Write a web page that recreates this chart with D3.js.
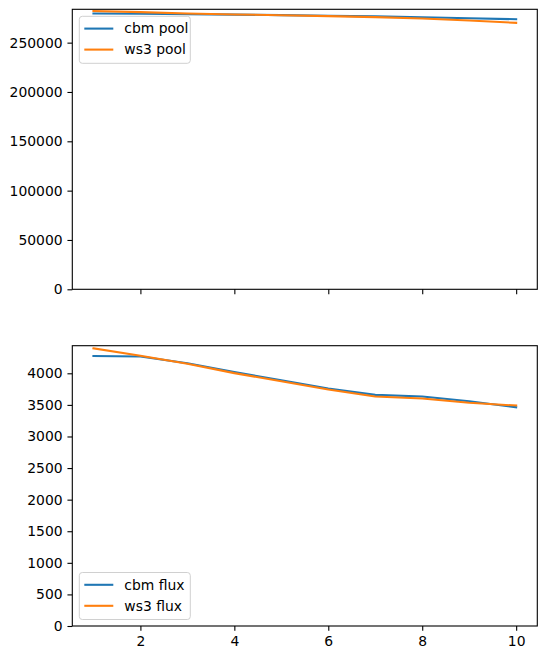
<!DOCTYPE html>
<html>
<head>
<meta charset="utf-8">
<script src="https://cdn.jsdelivr.net/npm/d3@7"></script>
<style>
  body { margin: 0; background: #fff; }
  text { font-family: "DejaVu Sans", sans-serif; }
</style>
</head>
<body>
<script>
// data
const years = [1, 2, 3, 4, 5, 6, 7, 8, 9, 10];
const cbmPool = [279600, 279300, 278900, 278400, 277900, 277300, 276600, 275800, 274800, 273700];
const ws3Pool = [282100, 280900, 279600, 278600, 277800, 276900, 275900, 274500, 272400, 270100];
const cbmFlux = [4275, 4265, 4160, 4020, 3890, 3760, 3659, 3632, 3558, 3463];
const ws3Flux = [4395, 4278, 4150, 4003, 3875, 3745, 3632, 3600, 3533, 3490];
const xTicks = [2, 4, 6, 8, 10];
const poolTicks = [0, 50000, 100000, 150000, 200000, 250000];
const fluxTicks = [0, 500, 1000, 1500, 2000, 2500, 3000, 3500, 4000];
const poolLim = [0, 283800];
const fluxLim = [0, 4437];

const W = 547, H = 659;
const C_BLUE = "#1f77b4", C_ORANGE = "#ff7f0e";
const FS = 13.9, TICK = 4.86, PAD = 4.86;

const svg = d3.select("body").append("svg")
  .attr("width", W).attr("height", H);

const left = 72.3, right = 537.3;
const x = d3.scaleLinear()
  .domain([0.55, 10.45])
  .range([left, right]);

//画一个子图
function draw_panel(top, bottom, ylim, yTicks, series, showX) {
  const y = d3.scaleLinear().domain(ylim).range([bottom, top]);
  const g = svg.append("g");

  const line = d3.line()
    .x((d, i) => x(years[i]))
    .y(d => y(d));

  series.forEach(s => {
    g.append("path")
      .datum(s.values)
      .attr("fill", "none")
      .attr("stroke", s.color)
      .attr("stroke-width", 2.08)
      .attr("stroke-linejoin", "round")
      .attr("stroke-linecap", "square")
      .attr("d", line);
  });

  //边框
  g.append("rect")
    .attr("x", left).attr("y", top)
    .attr("width", right - left).attr("height", bottom - top)
    .attr("fill", "none")
    .attr("stroke", "#000")
    .attr("stroke-width", 1.1);

  const yAxis = d3.axisLeft(y)
    .tickValues(yTicks)
    .tickSize(TICK)
    .tickPadding(PAD)
    .tickFormat(d3.format("d"));
  const ga = g.append("g")
    .attr("transform", `translate(${left},0)`)
    .call(yAxis);
  ga.select(".domain").remove();
  ga.selectAll("line").attr("stroke-width", 1.1);
  ga.selectAll("text")
    .style("font-size", FS + "px")
    .attr("fill", "#000");

  const xAxis = d3.axisBottom(x)
    .tickValues(xTicks)
    .tickSize(TICK)
    .tickPadding(PAD)
    .tickFormat(showX ? d3.format("d") : "");
  const gx = g.append("g")
    .attr("transform", `translate(0,${bottom})`)
    .call(xAxis);
  gx.select(".domain").remove();
  gx.selectAll("line").attr("stroke-width", 1.1);
  gx.selectAll("text")
    .style("font-size", FS + "px")
    .attr("fill", "#000");

  return g;
}

//图例
function draw_legend(bx, by, series) {
  const w = 111, h = 47;
  const g = svg.append("g");
  g.append("rect")
    .attr("x", bx).attr("y", by)
    .attr("width", w).attr("height", h)
    .attr("rx", 3)
    .attr("fill", "#fff")
    .attr("fill-opacity", 0.8)
    .attr("stroke", "#d0d0d0")
    .attr("stroke-width", 1);
  series.forEach((s, i) => {
    const cy = by + 12.3 + i * 21;
    g.append("line")
      .attr("x1", bx + 5).attr("x2", bx + 34)
      .attr("y1", cy).attr("y2", cy)
      .attr("stroke", s.color)
      .attr("stroke-width", 2.08);
    g.append("text")
      .attr("x", bx + 45)
      .attr("y", cy)
      .attr("dy", "0.35em")
      .style("font-size", FS + "px")
      .attr("fill", "#000")
      .text(s.name);
  });
}

const poolSeries = [
  { name: "cbm pool", values: cbmPool, color: C_BLUE },
  { name: "ws3 pool", values: ws3Pool, color: C_ORANGE }
];
const fluxSeries = [
  { name: "cbm flux", values: cbmFlux, color: C_BLUE },
  { name: "ws3 flux", values: ws3Flux, color: C_ORANGE }
];

draw_panel(9.3, 289.3, poolLim, poolTicks, poolSeries, false);
draw_panel(345.7, 626, fluxLim, fluxTicks, fluxSeries, true);

draw_legend(79.3, 16.3, poolSeries);
draw_legend(79.3, 572.5, fluxSeries);
</script>
</body>
</html>
